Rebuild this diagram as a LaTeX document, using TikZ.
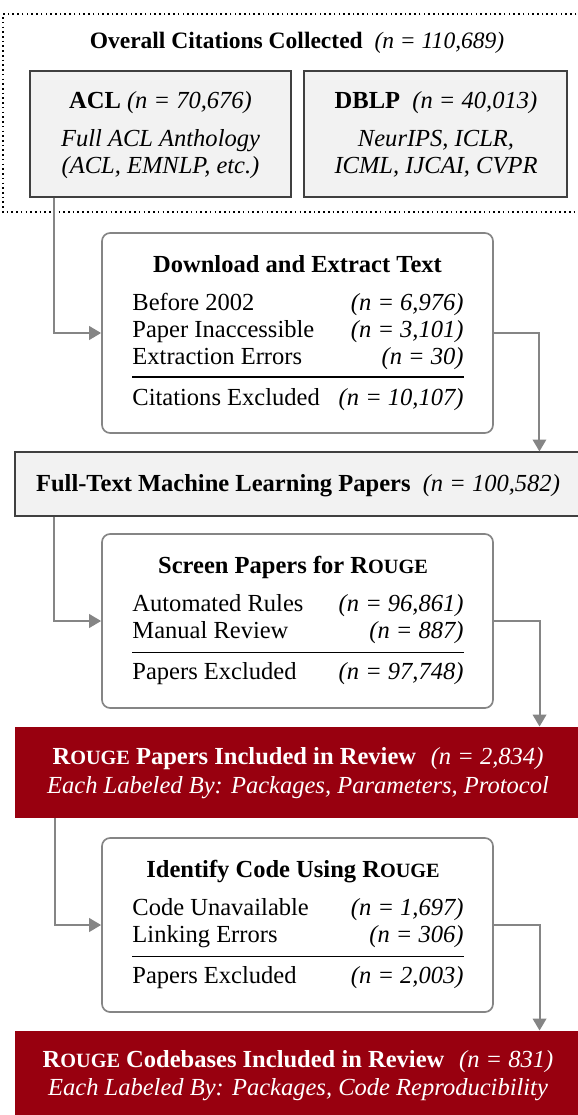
\documentclass[tikz,border=0pt]{standalone}
\usepackage{fontspec}
\setmainfont{Liberation Serif}
\usetikzlibrary{arrows.meta,calc,fit}
\definecolor{boxgray}{HTML}{F2F2F2}
\definecolor{boxedge}{HTML}{404040}
\definecolor{linegray}{HTML}{858585}
\definecolor{deepred}{HTML}{98000F}
% faked small capitals for the metric name
\newcommand\rougesc{R{\fontsize{9pt}{10pt}\selectfont OUGE}}
\newcommand\cnt[1]{\textit{\mdseries(n = #1)}}
\newcommand\gap{\hspace{0.6em}}

\begin{document}
\begin{tikzpicture}[x=0.4444pt,y=-0.4444pt,
  txt/.style={inner sep=0pt,anchor=base,font=\fontsize{10.9pt}{13pt}\selectfont},
  lrow/.style={txt,anchor=base west},
  rrow/.style={txt,anchor=base east},
  graybox/.style={draw=boxedge,fill=boxgray,line width=0.5pt,inner sep=0pt},
  stepbox/.style={draw=linegray,line width=0.75pt,rounded corners=3.6pt,inner sep=0pt},
  redbox/.style={fill=deepred,draw=none,inner sep=0pt},
  outerline/.style={draw=black,line width=0.7pt,dash pattern=on 0.7pt off 1.4pt},
  arr/.style={draw=linegray,line width=0.9pt,-{Triangle[length=5.3pt,width=6pt]}},
  sep/.style={draw=black,line width=0.45pt}]
\useasboundingbox (0,0) rectangle (578,1115);

% collection stage: dotted frame, open towards the right margin
\coordinate (all-ne) at (600,14);
\coordinate (all-nw) at (3,14);
\coordinate (all-sw) at (3,212);
\coordinate (all-se) at (600,212);
\draw[outerline] (all-ne) -- (all-nw) -- (all-sw) -- (all-se);
\node[txt,font=\fontsize{10.45pt}{13pt}\selectfont] (all-t) at (297,49) {\textbf{Overall Citations Collected}\enspace\cnt{110,689}};
\node[graybox,fit={(30,71) (291,197)}] (acl) {};
\node[graybox,fit={(304,71) (567,197)}] (dblp) {};
\node[txt] (acl-t) at (160.5,108.5) {\textbf{ACL} \cnt{70,676}};
\node[txt] (acl-a) at (160.5,146.5) {\textit{Full ACL Anthology}};
\node[txt] (acl-b) at (160.5,173.5) {\textit{(ACL, EMNLP, etc.)}};
\node[txt] (dblp-t) at (436,108.5) {\textbf{DBLP}\enspace\cnt{40,013}};
\node[txt] (dblp-a) at (436,146.5) {\textit{NeurIPS, ICLR,}};
\node[txt] (dblp-b) at (436,173.5) {\textit{ICML, IJCAI, CVPR}};

% download and extraction
\node[stepbox,fit={(102,233) (493,433)}] (dl) {};
\node[txt] (dl-t) at (297.5,272) {\textbf{Download and Extract Text}};
\node[lrow] (dl-1l) at (132,310) {Before 2002};
\node[rrow] (dl-1r) at (464,310) {\cnt{6,976}};
\node[lrow] (dl-2l) at (132,337) {Paper Inaccessible};
\node[rrow] (dl-2r) at (464,337) {\cnt{3,101}};
\node[lrow] (dl-3l) at (132,364) {Extraction Errors};
\node[rrow] (dl-3r) at (464,364) {\cnt{30}};
\coordinate (dl-sa) at (132,377);
\coordinate (dl-sb) at (464,377);
\draw[sep] (dl-sa) -- (dl-sb);
\node[lrow] (dl-xl) at (132,405) {Citations Excluded};
\node[rrow] (dl-xr) at (464,405) {\cnt{10,107}};

\node[graybox,fit={(15,452) (600,516)}] (ft) {};
\node[txt] (ft-t) at (298,491) {\textbf{Full-Text Machine Learning Papers}\enspace\cnt{100,582}};

% screening
\node[stepbox,fit={(102,534) (493,708)}] (sc) {};
\node[txt] (sc-t) at (293,573) {\textbf{Screen Papers for \rougesc}};
\node[lrow] (sc-1l) at (132,611.5) {Automated Rules};
\node[rrow] (sc-1r) at (464,611.5) {\cnt{96,861}};
\node[lrow] (sc-2l) at (132,638) {Manual Review};
\node[rrow] (sc-2r) at (464,638) {\cnt{887}};
\coordinate (sc-sa) at (132,652);
\coordinate (sc-sb) at (464,652);
\draw[sep] (sc-sa) -- (sc-sb);
\node[lrow] (sc-xl) at (132,679.5) {Papers Excluded};
\node[rrow] (sc-xr) at (464,679.5) {\cnt{97,748}};

\node[redbox,fit={(15,727) (600,818)}] (rp) {};
\node[txt,text=white] (rp-t) at (298,764.5) {\textbf{\rougesc{} Papers Included in Review}\gap\cnt{2,834}};
\node[txt,text=white] (rp-s) at (298,793.5) {\textit{Each Labeled By: Packages, Parameters, Protocol}};

% code identification
\node[stepbox,fit={(102,838) (493,1012)}] (id) {};
\node[txt] (id-t) at (293,877) {\textbf{Identify Code Using \rougesc}};
\node[lrow] (id-1l) at (132,915.5) {Code Unavailable};
\node[rrow] (id-1r) at (464,915.5) {\cnt{1,697}};
\node[lrow] (id-2l) at (132,942) {Linking Errors};
\node[rrow] (id-2r) at (464,942) {\cnt{306}};
\coordinate (id-sa) at (132,956);
\coordinate (id-sb) at (464,956);
\draw[sep] (id-sa) -- (id-sb);
\node[lrow] (id-xl) at (132,983) {Papers Excluded};
\node[rrow] (id-xr) at (464,983) {\cnt{2,003}};

\node[redbox,fit={(15,1031) (600,1130)}] (rc) {};
\node[txt,text=white] (rc-t) at (298,1067.5) {\textbf{\rougesc{} Codebases Included in Review}\gap\cnt{831}};
\node[txt,text=white] (rc-s) at (298,1095.5) {\textit{Each Labeled By: Packages, Code Reproducibility}};

% connectors
\draw[arr] ($(acl.south west)+(25,0)$) |- (dl.west);
\draw[arr] (dl.east) -| ($(ft.north west)+(525,0)$);
\draw[arr] ($(ft.south west)+(40,0)$) |- (sc.west);
\draw[arr] (sc.east) -| ($(rp.north west)+(525,0)$);
\draw[arr] ($(rp.south west)+(40,0)$) |- (id.west);
\draw[arr] (id.east) -| ($(rc.north west)+(525,0)$);
\end{tikzpicture}
\end{document}
